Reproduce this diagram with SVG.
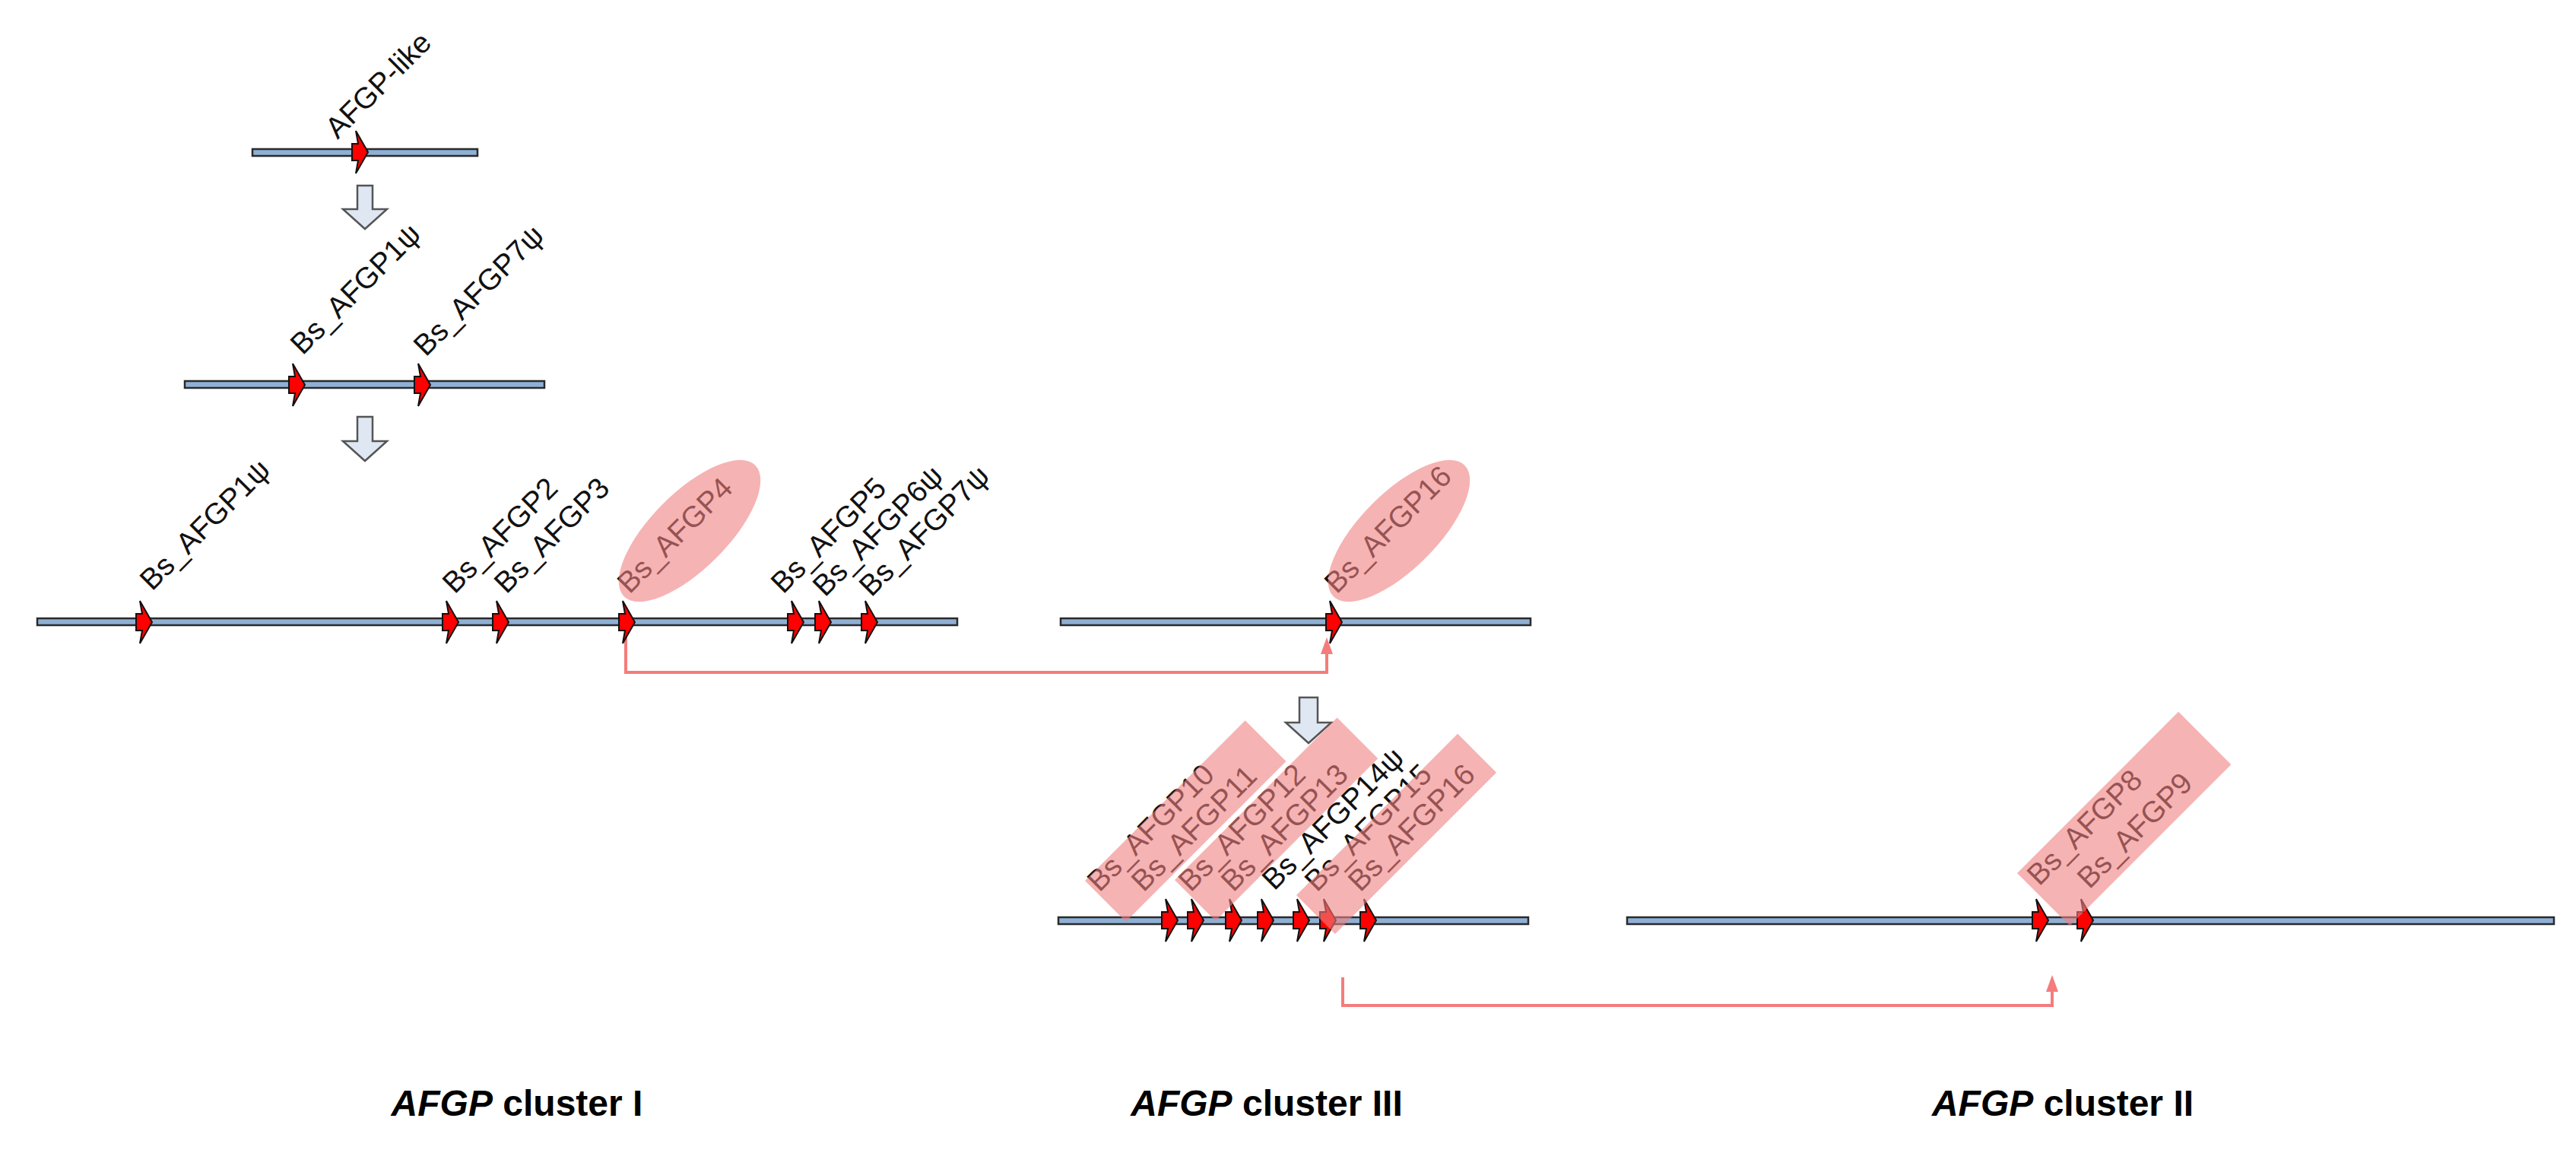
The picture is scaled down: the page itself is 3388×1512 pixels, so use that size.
<svg xmlns="http://www.w3.org/2000/svg" xmlns:xlink="http://www.w3.org/1999/xlink" width="3388" height="1512" viewBox="0 0 3388 1512">
<style>
.chr{fill:#8fb0d4;stroke:#2a2a2a;stroke-width:2.5}
.lbl{font-family:"Liberation Sans",Arial,sans-serif;font-size:39px;fill:#111}
.band{fill:#f08080;opacity:0.6}
.conn{fill:none;stroke:#f47c7c;stroke-width:4}
.blk{fill:#dfe7f2;stroke:#555;stroke-width:2.5}
.title{font-family:"Liberation Sans",Arial,sans-serif;font-weight:bold;font-size:48px;fill:#000;text-anchor:middle}
</style>
<defs>
<path id="gene" d="M-10,-11 L-2,-11 L-5,-28 L11,0 L-5,28 L-2,11 L-10,11 Z" fill="#ff0000" stroke="#111" stroke-width="2"/>
</defs>
<g id="connectors">
<path class="conn" d="M823,830 L823,884 L1745,884 L1745,856"/>
<path d="M1745,838 L1737,860 L1753,860 Z" fill="#f47c7c"/>
<path class="conn" d="M1766,1285 L1766,1322 L2699,1322 L2699,1300"/>
<path d="M2699,1282 L2691,1304 L2707,1304 Z" fill="#f47c7c"/>
<path class="blk" d="M470,244 L490,244 L490,275 L509,275 L480,301 L451,275 L470,275 Z"/>
<path class="blk" d="M470,548 L490,548 L490,580 L509,580 L480,606 L451,580 L470,580 Z"/>
<path class="blk" d="M1709,917 L1733,917 L1733,950 L1751,950 L1721,977 L1691,950 L1709,950 Z"/>
</g>
<g id="step1">
<rect class="chr" x="332" y="196" width="296" height="9"/>
<use xlink:href="#gene" x="473" y="200"/>
<text class="lbl" transform="translate(444,184) rotate(-45)">AFGP-like</text>
</g>
<g id="step2">
<rect class="chr" x="243" y="501" width="473" height="9"/>
<use xlink:href="#gene" x="390" y="506"/>
<use xlink:href="#gene" x="555" y="506"/>
<text class="lbl" transform="translate(398,468) rotate(-45)">Bs_AFGP1ψ</text>
<text class="lbl" transform="translate(560,470) rotate(-45)">Bs_AFGP7ψ</text>
</g>
<g id="clusterI">
<rect class="chr" x="49" y="813" width="1210" height="9"/>
<use xlink:href="#gene" x="189" y="818"/>
<use xlink:href="#gene" x="592" y="818"/>
<use xlink:href="#gene" x="658" y="818"/>
<use xlink:href="#gene" x="824" y="818"/>
<use xlink:href="#gene" x="1046" y="818"/>
<use xlink:href="#gene" x="1082" y="818"/>
<use xlink:href="#gene" x="1143" y="818"/>
<text class="lbl" transform="translate(200,778) rotate(-45)">Bs_AFGP1ψ</text>
<text class="lbl" transform="translate(598,782) rotate(-45)">Bs_AFGP2</text>
<text class="lbl" transform="translate(666,782) rotate(-45)">Bs_AFGP3</text>
<text class="lbl" transform="translate(828,782) rotate(-45)">Bs_AFGP4</text>
<text class="lbl" transform="translate(1030,782) rotate(-45)">Bs_AFGP5</text>
<text class="lbl" transform="translate(1085,786) rotate(-45)">Bs_AFGP6ψ</text>
<text class="lbl" transform="translate(1146,786) rotate(-45)">Bs_AFGP7ψ</text>
<ellipse class="band" cx="0" cy="0" rx="122" ry="50" transform="translate(907,698) rotate(-45)"/>
</g>
<g id="clusterIII-top">
<rect class="chr" x="1395" y="813" width="618" height="9"/>
<use xlink:href="#gene" x="1754" y="818"/>
<text class="lbl" transform="translate(1758,782) rotate(-45)">Bs_AFGP16</text>
<ellipse class="band" cx="0" cy="0" rx="122" ry="50" transform="translate(1840,698) rotate(-45)"/>
</g>
<g id="clusterIII">
<rect class="chr" x="1392" y="1206" width="618" height="9"/>
<use xlink:href="#gene" x="1538" y="1210"/>
<use xlink:href="#gene" x="1572" y="1210"/>
<use xlink:href="#gene" x="1622" y="1210"/>
<use xlink:href="#gene" x="1664" y="1210"/>
<use xlink:href="#gene" x="1711" y="1210"/>
<use xlink:href="#gene" x="1746" y="1210"/>
<use xlink:href="#gene" x="1799" y="1210"/>
<text class="lbl" transform="translate(1446,1174) rotate(-45)">Bs_AFGP10</text>
<text class="lbl" transform="translate(1504,1174) rotate(-45)">Bs_AFGP11</text>
<text class="lbl" transform="translate(1566,1174) rotate(-45)">Bs_AFGP12</text>
<text class="lbl" transform="translate(1622,1174) rotate(-45)">Bs_AFGP13</text>
<text class="lbl" transform="translate(1676,1172) rotate(-45)">Bs_AFGP14ψ</text>
<text class="lbl" transform="translate(1732,1174) rotate(-45)">Bs_AFGP15</text>
<text class="lbl" transform="translate(1789,1174) rotate(-45)">Bs_AFGP16</text>
<rect class="band" x="0" y="0" width="298" height="76" transform="translate(1427,1158) rotate(-45)"/>
<rect class="band" x="0" y="0" width="302" height="76" transform="translate(1545,1157) rotate(-45)"/>
<rect class="band" x="0" y="0" width="300" height="72" transform="translate(1705,1177) rotate(-45)"/>
</g>
<g id="clusterII">
<rect class="chr" x="2140" y="1206" width="1219" height="9"/>
<use xlink:href="#gene" x="2683" y="1210"/>
<use xlink:href="#gene" x="2742" y="1210"/>
<text class="lbl" transform="translate(2682,1166) rotate(-45)">Bs_AFGP8</text>
<text class="lbl" transform="translate(2748,1170) rotate(-45)">Bs_AFGP9</text>
<rect class="band" x="0" y="0" width="300" height="98" transform="translate(2653,1148) rotate(-45)"/>
</g>
<g id="titles">
<text class="title" x="680" y="1467"><tspan font-style="italic">AFGP</tspan> cluster I</text>
<text class="title" x="1666" y="1467"><tspan font-style="italic">AFGP</tspan> cluster III</text>
<text class="title" x="2713" y="1467"><tspan font-style="italic">AFGP</tspan> cluster II</text>
</g>
</svg>
